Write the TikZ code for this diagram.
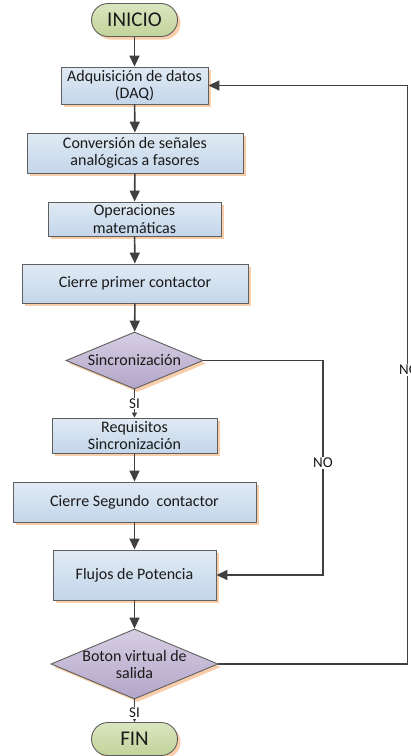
\documentclass[tikz,border=0pt]{standalone}
\usepackage{fontspec}
\setmainfont{Carlito}
\usetikzlibrary{shapes.geometric,shadows,arrows.meta}
\definecolor{linec}{HTML}{404040}
\definecolor{edgec}{HTML}{5F5F5F}
\definecolor{txtc}{HTML}{1A1A1A}
\definecolor{peach}{HTML}{F8C8A0}
\definecolor{boxtop}{HTML}{E0EAF4}
\definecolor{boxbot}{HTML}{C4D6EA}
\definecolor{dectop}{HTML}{D6CFE3}
\definecolor{decbot}{HTML}{B3A5C8}
\definecolor{termtop}{HTML}{DAE5BF}
\definecolor{termbot}{HTML}{C2D39A}
\tikzset{
  softshadow/.style={drop shadow={shadow xshift=3pt,shadow yshift=-3pt,fill=peach,opacity=0.9}},
  procbox/.style={rectangle,draw=edgec,line width=0.9pt,top color=boxtop,bottom color=boxbot,
    softshadow,align=center,text=txtc,inner sep=2pt,
    font=\fontsize{16}{17.5}\selectfont},
  decision/.style={diamond,draw=edgec,line width=0.9pt,top color=dectop,bottom color=decbot,
    softshadow,inner sep=0pt},
  dectext/.style={align=center,text=txtc,font=\fontsize{16}{17}\selectfont,inner sep=0pt},
  terminal/.style={rectangle,rounded corners=16.5pt,draw=edgec,line width=0.9pt,
    top color=termtop,bottom color=termbot,softshadow,text=txtc,
    minimum width=86pt,minimum height=33pt,font=\fontsize{21}{22}\selectfont},
  flow/.style={draw=linec,line width=1.6pt,-{Triangle[length=11pt,width=10pt]}},
  thinflow/.style={draw=linec,line width=1.2pt,-{Triangle[length=5pt,width=5pt]}},
  plainline/.style={draw=linec,line width=1.6pt},
  tag/.style={fill=white,text=txtc,inner sep=1pt,font=\fontsize{15}{16}\selectfont},
}
\begin{document}
\begin{tikzpicture}[x=1pt,y=-1pt]
\useasboundingbox[fill=white] (0,0) rectangle (411,756);

% main chain of steps
\node[terminal] (inicio) at (134.5,20) {INICIO};
\node[procbox,minimum width=147pt,minimum height=37pt] (adq) at (134.5,85.5)
  {Adquisición de datos\\(DAQ)};
\node[procbox,minimum width=216pt,minimum height=40pt] (conv) at (135,153)
  {Conversión de señales\\analógicas a fasores};
\node[procbox,minimum width=173pt,minimum height=34pt] (oper) at (134.5,219)
  {Operaciones\\matemáticas};
\node[procbox,minimum width=226pt,minimum height=39pt] (cierre1) at (135,283.5)
  {Cierre primer contactor};
\node[decision,minimum width=137pt,minimum height=57pt] (sinc) at (134.5,360.5) {};
\node[dectext] (sinctxt) at (sinc.center) {Sincronización};
\node[procbox,minimum width=165pt,minimum height=35pt] (req) at (134.5,435.5)
  {Requisitos\\Sincronización};
\node[procbox,minimum width=243pt,minimum height=40pt] (cierre2) at (134.5,502)
  {Cierre Segundo\ \ contactor};
\node[procbox,minimum width=163pt,minimum height=50pt] (flujos) at (134.5,575)
  {Flujos de Potencia};
\node[decision,minimum width=167pt,minimum height=70pt] (boton) at (134.5,664) {};
\node[dectext] (botontxt) at (boton.center) {Boton virtual de\\salida};
\node[terminal] (fin) at (134.5,739) {FIN};

% straight connectors
\draw[flow] (inicio) -- (adq);
\draw[flow] (adq) -- (conv);
\draw[flow] (conv) -- (oper);
\draw[flow] (oper) -- (cierre1);
\draw[flow] (cierre1) -- (sinc);
\draw[thinflow] (sinc.south) -- (req.north);
\node[tag] (si1) at (134.5,403.5) {SI};
\draw[flow] (req) -- (cierre2);
\draw[flow] (cierre2) -- (flujos);
\draw[flow] (flujos) -- (boton);
\draw[thinflow] (boton.south) -- (fin.north);
\node[tag] (si2) at (134.5,713) {SI};

% NO branch of the synchronisation check
\coordinate (c1) at (323,360.5);
\draw[flow] (sinc.east) -- (c1) |- (flujos.east);
\node[tag] (no1) at (323,463) {NO};

% NO branch of the exit button, back to acquisition
\coordinate (c2) at (407.5,664);
\draw[flow] (boton.east) -- (c2) |- (adq.east);
\node[tag] (no2) at (409,370) {NO};
\end{tikzpicture}
\end{document}
